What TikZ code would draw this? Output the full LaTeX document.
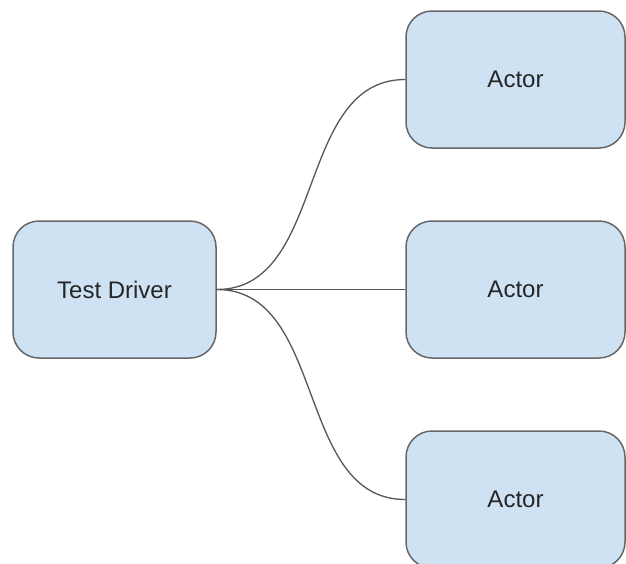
\documentclass[tikz,border=0pt]{standalone}
\usepackage{fontspec}
\setmainfont{Liberation Sans}
\definecolor{boxfill}{HTML}{CFE2F3}
\definecolor{boxline}{HTML}{666666}
\definecolor{wire}{HTML}{555555}
\begin{document}
\begin{tikzpicture}[x=1pt,y=-1pt,
  block/.style={draw=boxline, fill=boxfill, line width=1.5pt, rounded corners=26pt,
    inner sep=0pt, minimum height=137pt, text=black!85,
    font=\fontsize{24}{28}\selectfont},
  driver/.style={block, minimum width=203pt},
  actor/.style={block, minimum width=219pt},
  link/.style={draw=wire, line width=1.3pt}]
  \useasboundingbox (0,0) rectangle (626,563);

  \node[driver] (td) at (114.5,289.5) {Test Driver};
  \node[actor] (a1) at (515.5,79.5) {Actor};
  \node[actor] (a2) at (515.5,289.5) {Actor};
  \node[actor] (a3) at (515.5,499.5) {Actor};

  % fan-out connectors from the driver to each actor
  \draw[link] (td.east) to[out=0,in=180] (a1.west);
  \draw[link] (td.east) -- (a2.west);
  \draw[link] (td.east) to[out=0,in=180] (a3.west);
\end{tikzpicture}
\end{document}
